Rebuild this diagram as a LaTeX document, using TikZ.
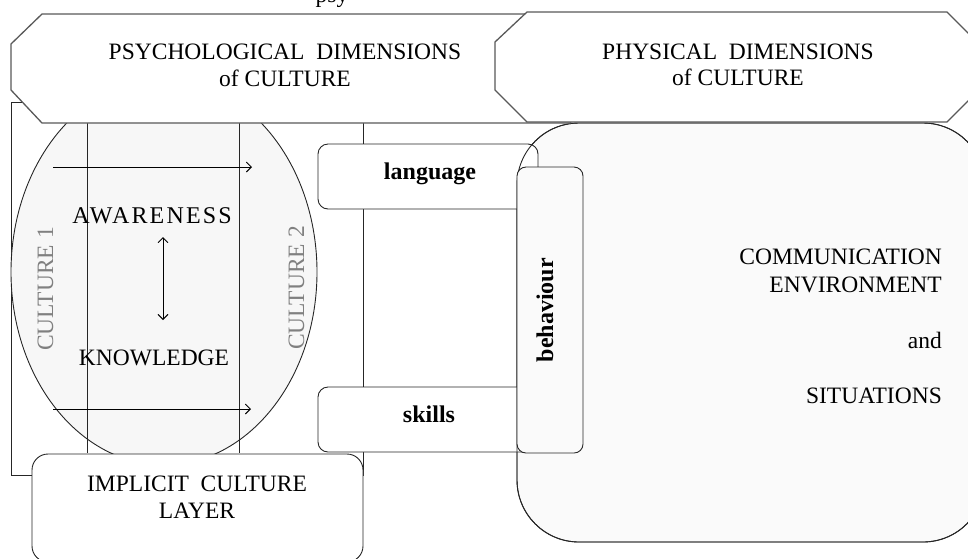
\documentclass[tikz,border=0pt]{standalone}
\usepackage{fontspec}
\setmainfont{Liberation Serif}
\usetikzlibrary{arrows.meta}
\begin{document}
\begin{tikzpicture}[x=1pt,y=-1pt,
  line/.style={draw=black!85, line width=0.9pt},
  octa/.style={draw=black!65, line width=1.3pt, fill=white},
  txt/.style={font=\fontsize{23.5}{27}\selectfont, inner sep=0pt, anchor=base},
  btxt/.style={font=\fontsize{24}{28}\selectfont\bfseries, inner sep=0pt, anchor=base},
  ctxt/.style={txt, text=black!50, rotate=90},
  arr/.style={line width=0.9pt, -{Straight Barb[length=5pt,width=10pt]}},
  darr/.style={line width=0.9pt, {Straight Barb[length=5pt,width=10pt]}-{Straight Barb[length=5pt,width=10pt]}},
  softfill/.style={fill=black!3},
  paperfill/.style={fill=black!2},
]
\useasboundingbox (0,0) rectangle (968,558);
\clip (0,0) rectangle (968,558);

% caption fragment cut at the top
\node[txt] (cap) at (332,2) {psy};

% outer frame of the psychological part
\draw[line] (11,102) rectangle (363,475);

% ellipse with the two cultures
\draw[line, softfill] (164,272) ellipse [x radius=153, y radius=193];
\draw[line] (87,123) -- (87,453);
\draw[line] (239,123) -- (239,453);

\coordinate (a1s) at (53,167);
\coordinate (a1e) at (252,167);
\coordinate (a2s) at (53,409);
\coordinate (a2e) at (251,409);
\coordinate (a3s) at (163,237);
\coordinate (a3e) at (163,320);
\draw[arr] (a1s) -- (a1e);
\draw[arr] (a2s) -- (a2e);
\draw[darr] (a3s) -- (a3e);

\node[txt, font=\fontsize{24}{27}\selectfont\addfontfeature{LetterSpace=9}] (aw) at (152,223) {AWARENESS};
\node[txt] (kn) at (154,365) {KNOWLEDGE};
\node[ctxt] (c1) at (53,289) {CULTURE 1};
\node[ctxt] (c2) at (304,288) {CULTURE 2};

% communication environment
\draw[line, paperfill, rounded corners=62] (517,123) rectangle (985,542);

% language and skills
\draw[line, fill=white, rounded corners=10] (318,144) rectangle (538,209);
\draw[line, fill=white, rounded corners=10] (318,387) rectangle (545,452);
\draw[line, rounded corners=62] (517,123) rectangle (985,542);
\node[btxt] (lang) at (430,179) {language};
\node[btxt] (sk) at (429,422) {skills};

% behaviour
\draw[line, paperfill, rounded corners=9] (517,167) rectangle (583,453);
\node[btxt, rotate=90] (beh) at (553,310) {behaviour};

\node[txt, anchor=base east] (com1) at (942,264) {COMMUNICATION};
\node[txt, anchor=base east] (com2) at (942,292) {ENVIRONMENT};
\node[txt, anchor=base east] (com3) at (942,348) {and};
\node[txt, anchor=base east] (com4) at (942,403) {SITUATIONS};

% implicit culture layer
\draw[line, fill=white, rounded corners=16] (32,454) rectangle (363,562);
\node[txt] (imp1) at (197,491) {IMPLICIT\ \ CULTURE};
\node[txt] (imp2) at (197,518) {LAYER};

% top octagons
\draw[octa] (42,14) -- (570,14) -- (590,40) -- (590,100) -- (570,123) -- (42,123) -- (11,90) -- (11,44) -- cycle;
\draw[octa] (527,12) -- (947,12) -- (980,45) -- (980,89) -- (947,122) -- (527,122) -- (495,90) -- (495,42) -- cycle;
\node[txt] (ps1) at (285,59.5) {PSYCHOLOGICAL\ \ DIMENSIONS};
\node[txt] (ps2) at (285,86) {of CULTURE};
\node[txt] (ph1) at (738,59) {PHYSICAL\ \ DIMENSIONS};
\node[txt] (ph2) at (738,85) {of CULTURE};
\end{tikzpicture}
\end{document}
